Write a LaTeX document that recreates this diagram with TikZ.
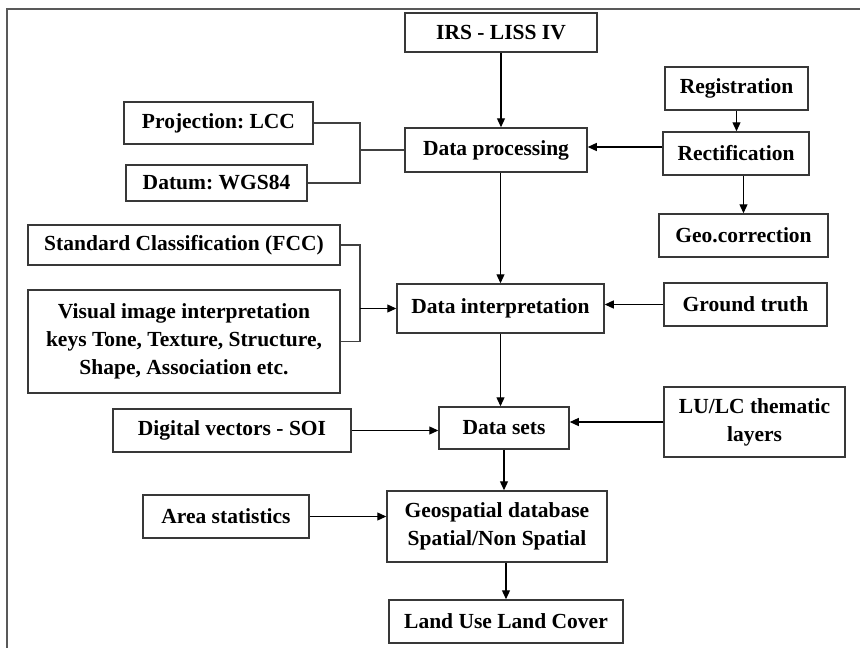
\documentclass[tikz,border=0pt]{standalone}
\usepackage{fontspec}
\setmainfont{Liberation Serif}
\usetikzlibrary{arrows.meta}
\frenchspacing
\begin{document}
\begin{tikzpicture}[x=1pt,y=-1pt,
  box/.style={draw=black!78, line width=1.5pt, rectangle, inner sep=0pt, align=center,
    font=\fontsize{21.5}{28}\selectfont\bfseries},
  arr/.style={draw=black, line width=1.25pt, -{Triangle[length=9pt,width=8pt]}},
  ln/.style={draw=black!75, line width=1.3pt},
  frame/.style={draw=black!65, line width=1.5pt}]
\useasboundingbox (0,0) rectangle (860,648);
\fill[white] (0,0) rectangle (860,648);
\draw[frame] (7,648) -- (7,9) -- (860,9);

\node[box, minimum width=192pt, minimum height=39pt] (irs) at (501,32.5) {IRS - LISS IV};
\node[box, minimum width=143pt, minimum height=43pt] (reg) at (736.5,88.5) {Registration};
\node[box, minimum width=146pt, minimum height=43pt] (rect) at (736,153.5) {Rectification};
\node[box, minimum width=169pt, minimum height=43pt] (geo) at (743.5,235.5) {Geo.correction};
\node[box, minimum width=182pt, minimum height=44pt] (dp) at (496,150) {Data processing};
\node[box, minimum width=189pt, minimum height=42pt] (proj) at (218.5,123) {Projection: LCC};
\node[box, minimum width=181pt, minimum height=36pt] (datum) at (216.5,183) {Datum: WGS84};
\node[box, minimum width=312pt, minimum height=40pt] (fcc) at (184,245) {Standard Classification (FCC)};
\node[box, minimum width=312pt, minimum height=103pt] (vis) at (184,341.5) {Visual image interpretation\\keys Tone, Texture, Structure,\\Shape, Association etc.};
\node[box, minimum width=207pt, minimum height=49pt] (di) at (500.5,308.5) {Data interpretation};
\node[box, minimum width=163pt, minimum height=43pt] (gt) at (745.5,304.5) {Ground truth};
\node[box, minimum width=238pt, minimum height=43pt] (dv) at (232,430.5) {Digital vectors - SOI};
\node[box, minimum width=130pt, minimum height=42pt] (ds) at (504,428) {Data sets};
\node[box, minimum width=181pt, minimum height=70pt] (lulc) at (754.5,422) {LU/LC thematic\\layers};
\node[box, minimum width=220pt, minimum height=71pt] (geosp) at (497,526.5) {Geospatial database\\Spatial/Non Spatial};
\node[box, minimum width=166pt, minimum height=43pt] (area) at (226,516.5) {Area statistics};
\node[box, minimum width=234pt, minimum height=43pt] (lu) at (506,621.5) {Land Use Land Cover};

\coordinate (j1) at (360,150);
\coordinate (j2) at (360,308.5);
\coordinate (y147) at (0,147);

\draw[arr] (irs.south) -- (irs.south |- dp.north);
\draw[arr] (reg.south) -- (reg.south |- rect.north);
\draw[arr] (rect.west |- y147) -- (dp.east |- y147);
\draw[arr] (rect.south -| geo.north) -- (geo.north);
\draw[ln] (proj.east) -| (j1) |- (datum.east);
\draw[ln] (j1) -- (dp.west);
\draw[arr] (dp.south -| di.north) -- (di.north);
\draw[ln] (fcc.east) -| (j2) |- (vis.east);
\draw[arr] (j2) -- (di.west);
\draw[arr] (gt.west) -- (gt.west -| di.east);
\draw[arr] (di.south) -- (di.south |- ds.north);
\draw[arr] (dv.east) -- (dv.east -| ds.west);
\draw[arr] (lulc.west) -- (lulc.west -| ds.east);
\draw[arr] (ds.south) -- (ds.south |- geosp.north);
\draw[arr] (area.east) -- (area.east -| geosp.west);
\draw[arr] (geosp.south -| lu.north) -- (lu.north);
\end{tikzpicture}
\end{document}
